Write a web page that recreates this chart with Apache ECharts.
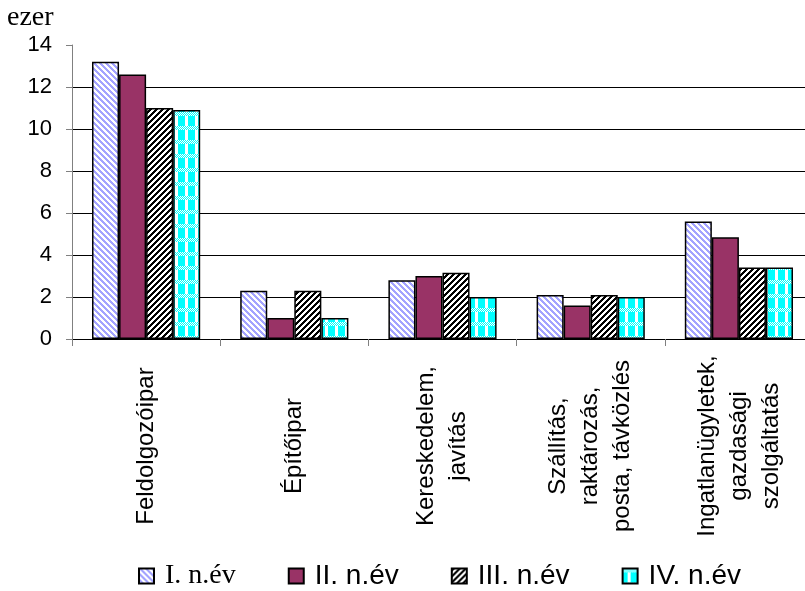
<!DOCTYPE html>
<html><head><meta charset="utf-8">
<script src="https://cdn.jsdelivr.net/npm/echarts@6/dist/echarts.min.js"></script>
<style>html,body{margin:0;padding:0;background:#fff}#c{width:805px;height:591px}</style>
</head><body><div id="c"></div>
<script>
const categories = ['Feldolgozóipar', 'Építőipar', 'Kereskedelem,\njavítás', 'Szállítás,\nraktározás,\nposta, távközlés', 'Ingatlanügyletek,\ngazdasági\nszolgáltatás'];
const seriesNames = ['I. n.év', 'II. n.év', 'III. n.év', 'IV. n.év'];
const valuesI = [13.2, 2.3, 2.8, 2.1, 5.6];
const valuesII = [12.6, 1.0, 3.0, 1.6, 4.85];
const valuesIII = [11.0, 2.3, 3.15, 2.1, 3.4];
const valuesIV = [10.9, 1.0, 2.0, 2.0, 3.4];
const yAxisName = 'ezer';
const yMin = 0, yMax = 14, yStep = 2;

function makePattern(w, h, fn) {
  const c = document.createElement('canvas');
  c.width = w; c.height = h;
  const ctx = c.getContext('2d');
  for (let y = 0; y < h; y++) for (let x = 0; x < w; x++) {
    ctx.fillStyle = fn(x, y); ctx.fillRect(x, y, 1, 1);
  }
  return { image: c, repeat: 'repeat' };
}
const p1 = makePattern(6, 6, (x, y) => ((x - y + 60) % 6 < 3) ? '#a3a3ff' : '#ffffff');
const p2 = '#993366';
const p3 = makePattern(6, 6, (x, y) => ((x + y) % 6 < 3) ? '#000000' : '#ffffff');
const p4 = makePattern(10, 14, (x, y) => {
  if (y < 4) return ((x + y) % 2 === 0) ? '#ffffff' : '#00ffff';
  if (x >= 5 && x < 8) return '#ffffff';
  return '#00ffff';
});
const fills = [p1, p2, p3, p4];
const allValues = [valuesI, valuesII, valuesIII, valuesIV];

const chart = echarts.init(document.getElementById('c'), null, { renderer: 'canvas' });
chart.setOption({
  animation: false,
  backgroundColor: '#ffffff',
  title: {
    text: yAxisName, left: 7, top: 4, padding: 0,
    textStyle: { fontFamily: 'Liberation Serif', fontSize: 28, fontWeight: 'normal', color: '#000' }
  },
  legend: {
    left: 138, top: 562, padding: 0, itemWidth: 15, itemHeight: 15, itemGap: 52, icon: 'rect',
    selectedMode: false,
    textStyle: { fontFamily: 'Liberation Sans', fontSize: 28, color: '#000', padding: [0, 0, 0, 6] },
    data: seriesNames.map((n, i) => i === 0 ? { name: n, textStyle: { fontFamily: 'Liberation Serif', fontSize: 28, padding: [0, 0, 0, 6] } } : { name: n })
  },
  grid: { left: 72, top: 45, right: -8, bottom: 252, containLabel: false, outerBoundsMode: 'none' },
  xAxis: {
    type: 'category', data: categories,
    axisLine: { lineStyle: { color: '#000', width: 1 } },
    axisTick: { show: true, length: 7, lineStyle: { color: '#808080' } },
    axisLabel: {
      interval: 0, rotate: 90, margin: 12,
      formatter: v => v.split('\n').map(s => '{c|' + s + '}').join('\n'),
      rich: { c: { width: 190, align: 'center', fontSize: 24, fontFamily: 'Liberation Sans', lineHeight: 32, color: '#000' } }
    }
  },
  yAxis: {
    type: 'value', min: yMin, max: yMax, interval: yStep,
    axisLine: { show: true, lineStyle: { color: '#808080', width: 1 } },
    axisTick: { show: true, length: 6, lineStyle: { color: '#808080' } },
    axisLabel: { margin: 20, fontSize: 22, fontFamily: 'Liberation Sans', color: '#000' },
    splitLine: { show: true, showMaxLine: false, lineStyle: { color: '#000', width: 1 } }
  },
  series: seriesNames.map((n, i) => ({
    name: n, type: 'bar', data: allValues[i],
    barGap: '0%', barCategoryGap: '27%',
    itemStyle: { color: fills[i], borderColor: '#000', borderWidth: 1.5 },
    emphasis: { disabled: true }
  }))
});
</script></body></html>
